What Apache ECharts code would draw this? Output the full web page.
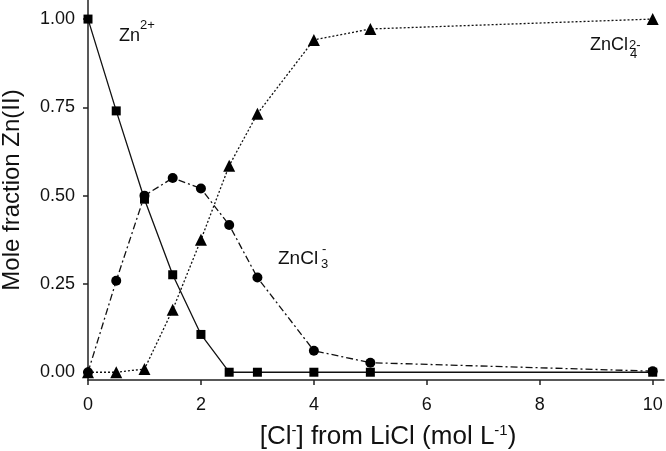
<!DOCTYPE html>
<html><head><meta charset="utf-8">
<script src="https://cdn.jsdelivr.net/npm/echarts@6/dist/echarts.min.js"></script>
<style>html,body{margin:0;padding:0;background:#fff}#c{width:666px;height:451px}</style>
</head><body><div id="c"></div>
<script>
var xValues = [0, 0.5, 1, 1.5, 2, 2.5, 3, 4, 5, 10];
var zn2 = [1.00, 0.74, 0.49, 0.276, 0.107, 0, 0, 0, 0, 0];
var zncl3 = [0, 0.259, 0.50, 0.55, 0.52, 0.417, 0.268, 0.061, 0.027, 0.003];
var zncl4 = [0, 0, 0.009, 0.177, 0.375, 0.585, 0.732, 0.941, 0.972, 1.00];
var xTicks = [0, 2, 4, 6, 8, 10];
var yTicks = [0, 0.25, 0.5, 0.75, 1.0];

function pairs(ys){ return xValues.map(function(x,i){return [x, ys[i]];}); }
var font = '"Liberation Sans", Arial, sans-serif';
var chart = echarts.init(document.getElementById('c'));
function ser(name, ys, sym, size, ltype){
  return {name:name, type:'line', data:pairs(ys), symbol:sym, symbolSize:size, clip:false,
    lineStyle:{color:'#111', width:1.3, type:ltype}, itemStyle:{color:'#000'}, animation:false};
}
function txt(s, left, top, size){
  return {type:'text', left:left, top:top, style:{text:s, fontSize:size, fontFamily:font, fill:'#111'}};
}
chart.setOption({
  animation:false,
  grid:{left:88, right:2, top:0, bottom:71, outerBoundsMode:'none', containLabel:false},
  xAxis:{type:'value', min:0, max:10.2,
    name:'{a|[Cl}{s|-}{a|] from LiCl (mol L}{s|-1}{a|)}', nameLocation:'middle', nameGap:43,
    nameTextStyle:{padding:[0,0,0,24], rich:{a:{fontSize:26, fontFamily:font, color:'#111'}, s:{fontSize:15, fontFamily:font, color:'#111', verticalAlign:'top', padding:[0,0,13,0]}}},
    axisLine:{onZero:false, lineStyle:{color:'#222', width:1.5}},
    axisTick:{show:true, customValues:xTicks, length:5, inside:false, lineStyle:{color:'#222', width:1.5}},
    axisLabel:{customValues:xTicks, fontSize:18, fontFamily:font, color:'#111', margin:16},
    splitLine:{show:false}},
  yAxis:{type:'value', min:-0.022, max:1.054,
    name:'Mole fraction Zn(II)', nameLocation:'middle', nameGap:64,
    nameTextStyle:{fontSize:24, fontFamily:font, color:'#111'},
    axisLine:{show:true, onZero:false, lineStyle:{color:'#222', width:1.5}},
    axisTick:{show:true, customValues:yTicks, length:5, lineStyle:{color:'#222', width:1.5}},
    axisLabel:{customValues:yTicks, fontSize:18, fontFamily:font, color:'#111', margin:13,
      formatter:function(v){return v.toFixed(2);}},
    splitLine:{show:false}},
  series:[
    ser('ZnCl4', zncl4, 'triangle', 12, [2,2]),
    ser('ZnCl3', zncl3, 'circle', 10, [7,3,2,3]),
    ser('Zn2', zn2, 'rect', 9, 'solid')
  ],
  graphic:[
    txt('Zn', 119, 27, 18), txt('2+', 140, 19, 13),
    txt('ZnCl', 278, 249, 19), txt('-', 322, 243, 13), txt('3', 321, 258, 13),
    txt('ZnCl', 590, 36, 18), txt('2-', 629, 39, 13), txt('4', 630, 48, 13)
  ]
});
</script></body></html>
